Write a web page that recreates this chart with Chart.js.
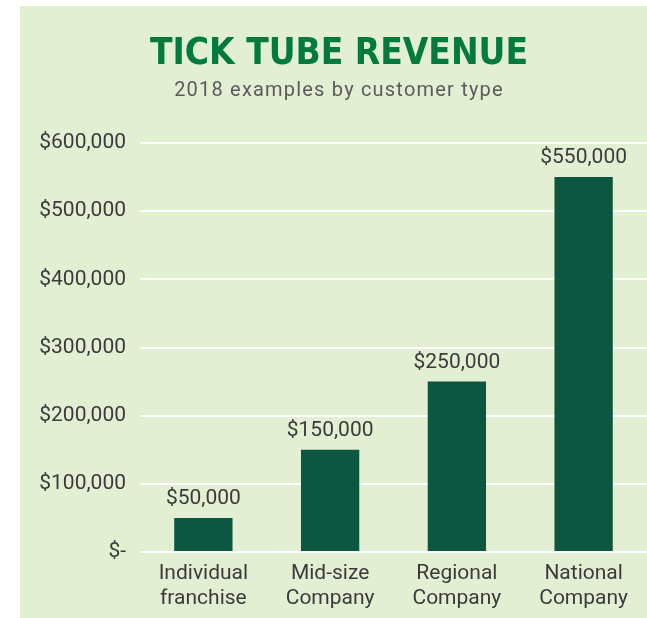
<!DOCTYPE html>
<html lang="en">
<head>
  <meta charset="UTF-8">
  <title>Tick Tube Revenue</title>
  <script src="https://cdn.jsdelivr.net/npm/chart.js"></script>
  <style>
    html, body {
      margin: 0;
      padding: 0;
      background: white;
    }
    #wrap {
      width: 647px;
      height: 618px;
    }
  </style>
</head>
<body>
<div id="wrap"><canvas id="revenueChart" width="647" height="618"></canvas></div>

<script>
  // data
  const categories = [
    ["Individual", "franchise"],
    ["Mid-size", "Company"],
    ["Regional", "Company"],
    ["National", "Company"]
  ];
  const revenue = [50000, 150000, 250000, 550000];
  const yTicks = [0, 100000, 200000, 300000, 400000, 500000, 600000];

  const titleText = "TICK TUBE REVENUE";
  const subtitleText = "2018 examples by customer type";

  const textColor = "#3b3b3b";
  const labelFont = "Roboto, 'Noto Sans', sans-serif";

  function money(v) {
    return v === 0 ? "$-" : "$" + v.toLocaleString("en-US");
  }

  // green panel + title drawn behind the chart
  const panelPlugin = {
    id: "panel",
    beforeDraw(chart) {
      const c = chart.ctx;
      c.save();
      c.fillStyle = "#e2efd3";
      c.fillRect(20, 6, chart.width - 20, chart.height - 6);

      c.textAlign = "center";
      c.textBaseline = "alphabetic";
      c.fillStyle = "#007a3d";
      c.font = "bold 38px 'DejaVu Sans Condensed', 'DejaVu Sans', sans-serif";
      const w = c.measureText(titleText).width;
      c.save();
      c.translate(339, 64);
      c.scale(378 / w, 1);
      c.fillText(titleText, 0, 0);
      c.restore();

      c.fillStyle = "#5b5b5b";
      c.font = "20px " + labelFont;
      c.letterSpacing = "1.2px";
      c.fillText(subtitleText, 339, 96);
      c.restore();
    }
  };

  // value labels above each bar
  const valueLabels = {
    id: "valueLabels",
    afterDatasetsDraw(chart) {
      const c = chart.ctx;
      const meta = chart.getDatasetMeta(0);
      c.save();
      c.fillStyle = textColor;
      c.font = "21px " + labelFont;
      c.textAlign = "center";
      c.textBaseline = "alphabetic";
      meta.data.forEach((bar, i) => {
        c.fillText(money(revenue[i]), bar.x, bar.y - 14);
      });
      c.restore();
    }
  };

  new Chart(document.getElementById("revenueChart"), {
    type: "bar",
    data: {
      labels: categories,
      datasets: [{
        data: revenue,
        backgroundColor: "#0d5640",
        barPercentage: 0.46,
        categoryPercentage: 1
      }]
    },
    options: {
      responsive: false,
      animation: false,
      layout: { padding: { top: 143, right: 0, bottom: 0, left: 0 } },
      plugins: {
        legend: { display: false },
        tooltip: { enabled: false }
      },
      scales: {
        x: {
          grid: { display: false },
          border: { display: false },
          ticks: {
            color: textColor,
            font: { family: labelFont, size: 21, lineHeight: 1.2 },
            padding: 1,
            maxRotation: 0
          },
          afterFit(s) { s.height = 66; }
        },
        y: {
          min: 0,
          max: 600000,
          afterBuildTicks(s) { s.ticks = yTicks.map(v => ({ value: v })); },
          grid: { color: "#ffffff", lineWidth: 2, drawTicks: false },
          border: { display: false },
          ticks: {
            color: textColor,
            font: { family: labelFont, size: 21 },
            padding: 14,
            callback: v => money(v)
          },
          afterFit(s) { s.width = 140; }
        }
      }
    },
    plugins: [panelPlugin, valueLabels]
  });
</script>
</body>
</html>
